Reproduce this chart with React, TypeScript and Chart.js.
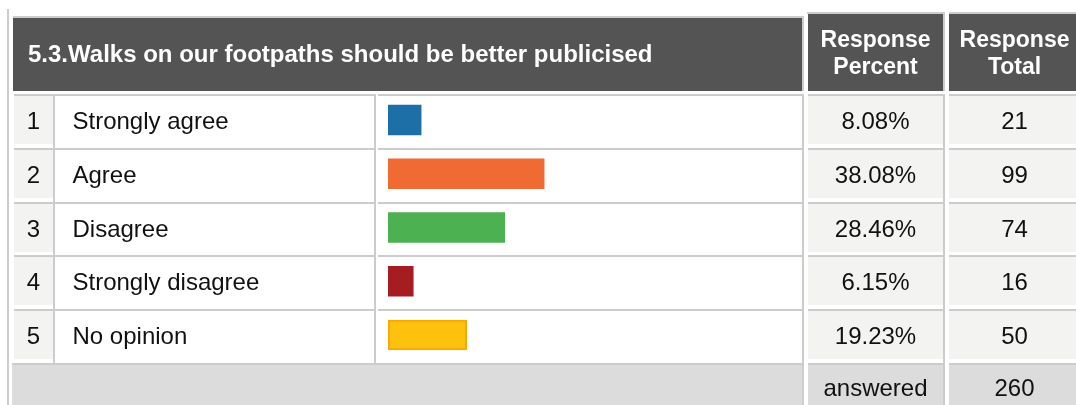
import React, { useEffect, useRef } from "react";
import { Chart, registerables } from "chart.js";

Chart.register(...registerables);

const questionTitle = "5.3.Walks on our footpaths should be better publicised";
const headerPercent = ["Response", "Percent"];
const headerTotal = ["Response", "Total"];
const categories = ["Strongly agree", "Agree", "Disagree", "Strongly disagree", "No opinion"];
const percents = [8.08, 38.08, 28.46, 6.15, 19.23];
const totals = [21, 99, 74, 16, 50];
const answeredLabel = "answered";
const answeredTotal = 260;

const barColors = ["#1d6fa8", "#f06a33", "#4cb150", "#a51d21", "#fec10e"];
const barBorders = ["#1d6fa8", "#f06a33", "#4cb150", "#a51d21", "#f8a600"];
const barBorderWidths = [0, 0, 0, 0, 2];

const FONT = "'Liberation Sans', Arial, sans-serif";
const GRID = "#cccccc";
const DARK = "#545454";
const LIGHT = "#f3f3f2";
const FOOT = "#dcdcdc";

// column geometry: fill x, fill width, has right border
const COLS = [
  { x: 14, w: 39, right: true },
  { x: 55, w: 319, right: true },
  { x: 378, w: 424, right: true },
  { x: 808, w: 135, right: true },
  { x: 949, w: 127, right: false },
];
const COL_FILLS = [LIGHT, "#ffffff", "#ffffff", LIGHT, LIGHT];

const tablePlugin = {
  id: "surveyTable",
  beforeDraw(chart: any) {
    const ctx = chart.ctx as CanvasRenderingContext2D;
    const ys = chart.scales.y;
    const W = chart.width;
    const H = chart.height;
    const pitch = ys.getPixelForValue(1) - ys.getPixelForValue(0);
    ctx.save();
    ctx.fillStyle = "#ffffff";
    ctx.fillRect(0, 0, W, H);

    // outer left line
    ctx.fillStyle = GRID;
    ctx.fillRect(7, 9, 2, H - 9);

    // header: title cell
    ctx.fillStyle = GRID;
    ctx.fillRect(13, 16, 791, 2);
    ctx.fillRect(802, 16, 2, 75);
    ctx.fillStyle = DARK;
    ctx.fillRect(13, 18, 789, 73);
    // header: percent / total cells
    ctx.fillStyle = GRID;
    ctx.fillRect(807, 12, 138, 2);
    ctx.fillRect(943, 12, 2, 79);
    ctx.fillRect(949, 12, W - 949, 2);
    ctx.fillStyle = DARK;
    ctx.fillRect(808, 14, 135, 77);
    ctx.fillRect(949, 14, W - 949, 77);

    // rows
    for (let i = 0; i < categories.length; i++) {
      const cy = ys.getPixelForValue(i);
      const top = Math.round(cy - 26);
      COLS.forEach((c, k) => {
        ctx.fillStyle = GRID;
        ctx.fillRect(c.x, top, c.w + (c.right ? 2 : 0), 2);
        if (c.right) ctx.fillRect(c.x + c.w, top, 2, Math.ceil(pitch));
        ctx.fillStyle = COL_FILLS[k];
        ctx.fillRect(c.x, top + 2, c.w, 48);
      });
    }

    // footer
    const fcy = ys.getPixelForValue(categories.length);
    const ftop = Math.round(fcy - 26);
    ctx.fillStyle = GRID;
    ctx.fillRect(12, ftop, 792, 2);
    ctx.fillRect(802, ftop, 2, H - ftop);
    ctx.fillRect(808, ftop, 137, 2);
    ctx.fillRect(943, ftop, 2, H - ftop);
    ctx.fillRect(949, ftop, W - 949, 2);
    ctx.fillStyle = FOOT;
    ctx.fillRect(12, ftop + 2, 790, H - ftop - 2);
    ctx.fillRect(808, ftop + 2, 135, H - ftop - 2);
    ctx.fillRect(949, ftop + 2, W - 949, H - ftop - 2);
    ctx.restore();
  },
  afterDatasetsDraw(chart: any) {
    const ctx = chart.ctx as CanvasRenderingContext2D;
    const ys = chart.scales.y;
    ctx.save();
    ctx.textBaseline = "alphabetic";

    // header texts
    ctx.fillStyle = "#ffffff";
    ctx.font = `bold 24px ${FONT}`;
    ctx.textAlign = "left";
    ctx.fillText(questionTitle, 28, 62);
    ctx.font = `bold 23px ${FONT}`;
    ctx.textAlign = "center";
    ctx.fillText(headerPercent[0], 875.5, 47);
    ctx.fillText(headerPercent[1], 875.5, 74);
    ctx.fillText(headerTotal[0], 1014.5, 47);
    ctx.fillText(headerTotal[1], 1014.5, 74);

    // rows
    ctx.fillStyle = "#111111";
    ctx.font = `24px ${FONT}`;
    for (let i = 0; i < categories.length; i++) {
      const base = ys.getPixelForValue(i) + 9;
      ctx.textAlign = "center";
      ctx.fillText(String(i + 1), 33.5, base);
      ctx.fillText(percents[i].toFixed(2) + "%", 875.5, base);
      ctx.fillText(String(totals[i]), 1014.5, base);
      ctx.textAlign = "left";
      ctx.fillText(categories[i], 72.5, base);
    }

    // footer
    const fbase = 396;
    ctx.textAlign = "center";
    ctx.fillText(answeredLabel, 875.5, fbase);
    ctx.fillText(String(answeredTotal), 1014.5, fbase);
    ctx.restore();
  },
};

export default function App() {
  const canvasRef = useRef<HTMLCanvasElement | null>(null);

  useEffect(() => {
    const canvas = canvasRef.current;
    if (!canvas) return;
    const chart = new Chart(canvas, {
      type: "bar",
      data: {
        labels: categories,
        datasets: [
          {
            data: percents,
            backgroundColor: barColors,
            borderColor: barBorders,
            borderWidth: barBorderWidths,
            borderSkipped: false,
            barThickness: 30,
          },
        ],
      },
      options: {
        responsive: false,
        animation: false,
        devicePixelRatio: 1,
        indexAxis: "y",
        layout: { padding: { left: 388, right: 278, top: 93.125, bottom: 43.125 } },
        scales: {
          x: { display: false, min: 0, max: 100 },
          y: { display: false },
        },
        plugins: {
          legend: { display: false },
          tooltip: { enabled: false },
        },
      },
      plugins: [tablePlugin],
    } as any);
    return () => chart.destroy();
  }, []);

  return (
    <div style={{ position: "fixed", left: 0, top: 0, width: 1076, height: 405, background: "#fff" }}>
      <canvas ref={canvasRef} width={1076} height={405} style={{ display: "block", width: 1076, height: 405 }} />
    </div>
  );
}
